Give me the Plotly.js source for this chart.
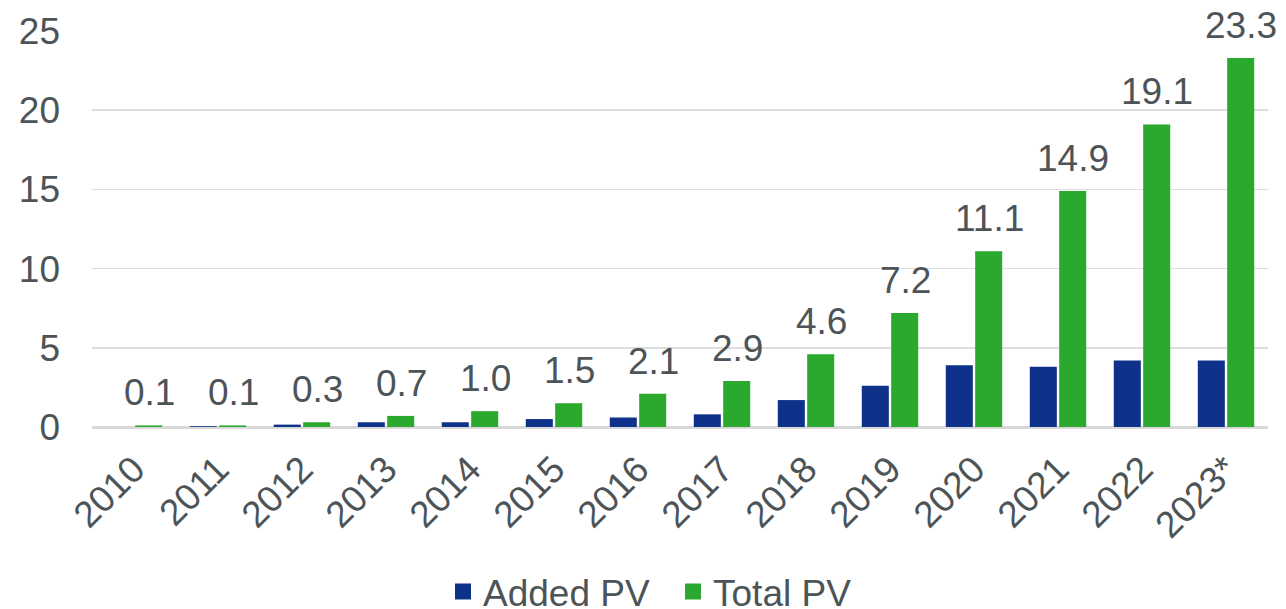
<!DOCTYPE html>
<html>
<head>
<meta charset="utf-8">
<script src="https://cdn.plot.ly/plotly-3.0.1.min.js"></script>
<style>
  html, body { margin: 0; padding: 0; background: #ffffff; }
  #chart { width: 1286px; height: 609px; }
</style>
</head>
<body>
<div id="chart"></div>
<script>
// Installed solar PV capacity per year
const years = ['2010', '2011', '2012', '2013', '2014', '2015', '2016',
               '2017', '2018', '2019', '2020', '2021', '2022', '2023*'];
const addedPV = [0.0, 0.05, 0.15, 0.3, 0.3, 0.5, 0.6, 0.8, 1.7, 2.6, 3.9, 3.8, 4.2, 4.2];
const totalPV = [0.1, 0.1, 0.3, 0.7, 1.0, 1.5, 2.1, 2.9, 4.6, 7.2, 11.1, 14.9, 19.1, 23.3];
const yTicks = [0, 5, 10, 15, 20, 25];

const textColor = '#4d5457';
const fontFamily = '"Liberation Sans", Arial, sans-serif';
const fontSize = 37;
const blue = '#0e3189';
const green = '#2ba82e';

const traces = [
  {
    type: 'bar', name: 'Added PV', x: years, y: addedPV,
    marker: { color: blue }, showlegend: false, hoverinfo: 'x+y'
  },
  {
    type: 'bar', name: 'Total PV', x: years, y: totalPV,
    marker: { color: green }, showlegend: false, hoverinfo: 'x+y'
  },
  // legend entries with larger square swatches
  {
    type: 'scatter', mode: 'markers', name: 'Added PV', x: [null], y: [null],
    marker: { symbol: 'square', size: 21, color: blue }, showlegend: true
  },
  {
    type: 'scatter', mode: 'markers', name: 'Total PV', x: [null], y: [null],
    marker: { symbol: 'square', size: 21, color: green }, showlegend: true
  }
];

// value labels above the Total PV bars (category index as position)
const annotations = years.map((yr, i) => ({
  x: i, y: totalPV[i], xref: 'x', yref: 'y',
  text: totalPV[i].toFixed(1),
  showarrow: false, yanchor: 'bottom', xanchor: 'center',
  xshift: 15, yshift: 10,
  font: { size: fontSize, color: textColor, family: fontFamily }
}));

const layout = {
  width: 1286, height: 609,
  margin: { l: 92, r: 18, t: 31, b: 182 },
  paper_bgcolor: '#ffffff', plot_bgcolor: '#ffffff',
  font: { family: fontFamily, size: fontSize, color: textColor },
  barmode: 'group', bargap: 0.3, bargroupgap: 0.08,
  showlegend: true,
  legend: {
    orientation: 'h', xref: 'container', yref: 'container',
    x: 0.3445, xanchor: 'left', y: 0.028, yanchor: 'middle',
    font: { size: fontSize, color: textColor }, itemwidth: 30,
    entrywidth: 185, entrywidthmode: 'pixels',
    bgcolor: 'rgba(0,0,0,0)'
  },
  xaxis: {
    type: 'category', categoryorder: 'array', categoryarray: years,
    range: [-0.5, years.length - 0.5], automargin: false,
    tickangle: -45, showgrid: false, ticklabelstandoff: 12,
    showline: false, zeroline: false, ticks: '',
    tickfont: { size: fontSize, color: textColor }
  },
  yaxis: {
    range: [0, 25], tickvals: yTicks, ticktext: yTicks.map(String),
    automargin: false,
    showgrid: true, gridcolor: '#dedede', gridwidth: 1.5,
    zeroline: true, zerolinecolor: '#d9d9d9', zerolinewidth: 3,
    showline: false, ticks: '', ticklabelstandoff: 31,
    tickfont: { size: fontSize, color: textColor }
  },
  annotations: annotations
};

Plotly.newPlot('chart', traces, layout, { displayModeBar: false, staticPlot: true });
</script>
</body>
</html>
